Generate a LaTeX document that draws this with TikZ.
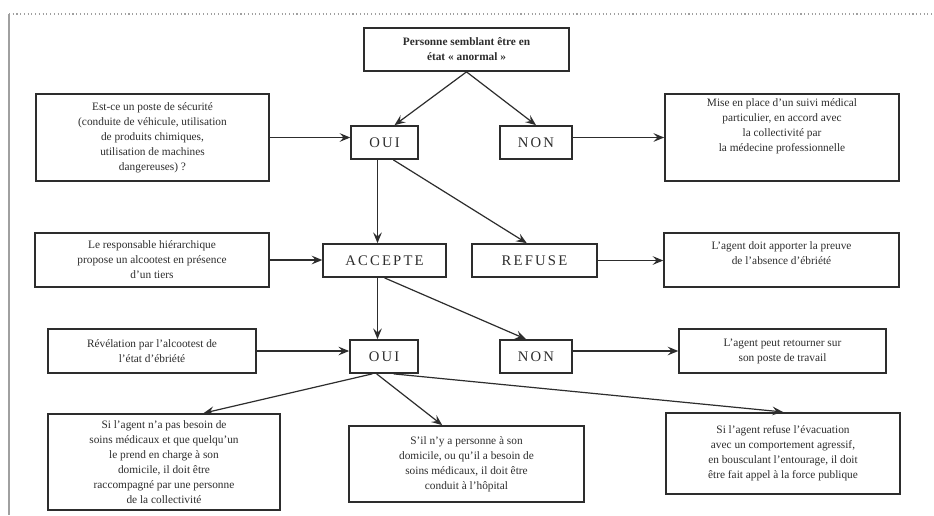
\documentclass[tikz,border=0pt]{standalone}
\usepackage{fontspec}
\setmainfont{Liberation Serif}
\newfontfamily\spacedfont[LetterSpace=15]{Liberation Serif}
\usetikzlibrary{arrows.meta}
\definecolor{scanink}{RGB}{45,45,45}
\definecolor{scanrule}{RGB}{160,160,160}

\begin{document}
\begin{tikzpicture}[x=0.75pt,y=-0.75pt,
  font=\fontsize{8.5}{11.25}\selectfont,
  txtbox/.style={draw=scanink,line width=1.3pt,align=center,inner sep=2pt,text=scanink},
  yesno/.style={txtbox,font=\spacedfont\fontsize{11}{13}\selectfont,minimum height=24.75pt},
  link/.style={scanink,line width=0.9pt,-{Stealth[length=8pt,width=6.5pt,inset=3pt]}}]

\useasboundingbox[fill=white] (0,0) rectangle (934,515);

% scanned page edge
\draw[scanrule,dotted,line width=0.8pt] (9,14) -- (934,14);
\draw[scanrule,line width=0.8pt] (9,14) -- (9,515);

\node[txtbox,font=\bfseries\fontsize{8.5}{11.25}\selectfont,minimum width=153.75pt,minimum height=32.25pt] (top) at (466.5,49.5) {Personne semblant être en\\état « anormal »};

\node[txtbox,minimum width=175pt,minimum height=65.25pt] (lb1) at (152.5,137.5) {Est-ce un poste de sécurité\\(conduite de véhicule, utilisation\\de produits chimiques,\\utilisation de machines\\dangereuses) ?};
\node[yesno,minimum width=50pt] (oui1) at (384.5,142.5) {OUI};
\node[yesno,minimum width=54pt] (non1) at (536,142.5) {NON};
\node[txtbox,minimum width=175.5pt,minimum height=65.25pt,text depth=18pt] (rb1) at (782,137.5) {Mise en place d'un suivi médical\\particulier, en accord avec\\la collectivité par\\la médecine professionnelle};

\node[txtbox,minimum width=175.5pt,minimum height=40.5pt] (lb2) at (152,260) {Le responsable hiérarchique\\propose un alcootest en présence\\d'un tiers};
\node[yesno,minimum width=92pt] (acc) at (384.5,260.5) {ACCEPTE};
\node[yesno,minimum width=94pt] (ref) at (534.5,260.5) {REFUSE};
\node[txtbox,minimum width=176pt,minimum height=40.5pt,text depth=10pt] (rb2) at (781.5,260) {L'agent doit apporter la preuve\\de l'absence d'ébriété};

\node[txtbox,minimum width=156pt,minimum height=33pt] (lb3) at (152,351) {Révélation par l'alcootest de\\l'état d'ébriété};
\node[yesno,minimum width=51pt] (oui2) at (384,356.5) {OUI};
\node[yesno,minimum width=54pt] (non2) at (536,356.5) {NON};
\node[txtbox,minimum width=155pt,minimum height=33pt] (rb3) at (782.5,351) {L'agent peut retourner sur\\son poste de travail};

\node[txtbox,minimum width=174pt,minimum height=72pt] (bb1) at (164,462) {Si l'agent n'a pas besoin de\\soins médicaux et que quelqu'un\\le prend en charge à son\\domicile, il doit être\\raccompagné par une personne\\de la collectivité};
\node[txtbox,minimum width=176pt,minimum height=57pt] (bb2) at (466.5,464) {S'il n'y a personne à son\\domicile, ou qu'il a besoin de\\soins médicaux, il doit être\\conduit à l'hôpital};
\node[txtbox,minimum width=175.5pt,minimum height=61pt] (bb3) at (783,453.5) {Si l'agent refuse l'évacuation\\avec un comportement agressif,\\en bousculant l'entourage, il doit\\être fait appel à la force publique};

\draw[link] (top.south) -- (oui1.60);
\draw[link] (top.south) -- (non1.north);
\draw[link] (lb1.east) -- (lb1.east -| oui1.west);
\draw[link] (non1.east |- rb1.west) -- (rb1.west);
\draw[link] (oui1.-112) -- (oui1.-112 |- acc.north);
\draw[link] (oui1.-63) -- (ref.114);
\draw[link] (lb2.east) -- (lb2.east -| acc.west);
\draw[link] (ref.east) -- (ref.east -| rb2.west);
\draw[link] (acc.-112) -- (acc.-112 |- oui2.north);
\draw[link] (acc.south) -- (non2.120);
\draw[link] (lb3.east) -- (lb3.east -| oui2.west);
\draw[link] (non2.east |- rb3.west) -- (rb3.west);
\draw[link] (oui2.-124) -- (bb1.51);
\draw[link] (oui2.-113) -- (bb2.122);
\draw[link] (oui2.-61) -- (bb3.north);
\end{tikzpicture}
\end{document}
